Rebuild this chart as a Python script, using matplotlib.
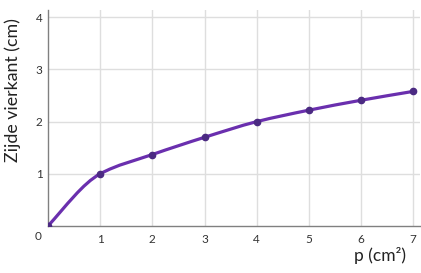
import numpy as np
import matplotlib
matplotlib.use("Agg")
import matplotlib.pyplot as plt
from matplotlib.path import Path
from matplotlib.patches import PathPatch

# data
p_values = [0, 1, 2, 3, 4, 5, 6, 7]
zijde = [0, 1.0, 1.37, 1.70, 2.0, 2.22, 2.41, 2.58]
x_ticks = [1, 2, 3, 4, 5, 6, 7]
y_ticks = [1, 2, 3, 4]

line_color = "#6a2fae"
dot_color = "#4b2a82"
grid_color = "#dedede"
spine_color = "#808080"

plt.rcParams["font.family"] = ["Lato", "DejaVu Sans"]

fig = plt.figure(figsize=(4.21, 2.73), dpi=100)
ax = fig.add_axes([48 / 421, 1 - 226 / 273, 372 / 421, 216 / 273])

# smooth curve through the points (monotone cubic, drawn as bezier segments)
x = np.array(p_values, dtype=float)
y = np.array(zijde, dtype=float)
d = np.diff(y) / np.diff(x)
m = np.zeros_like(y)
m[0] = d[0] * 1.1
m[-1] = d[-1]
for i in range(1, len(y) - 1):
    m[i] = 0 if d[i - 1] * d[i] <= 0 else 2 / (1 / d[i - 1] + 1 / d[i])
verts = [(x[0], y[0])]
codes = [Path.MOVETO]
for i in range(len(x) - 1):
    h = x[i + 1] - x[i]
    verts += [(x[i] + h / 3, y[i] + m[i] * h / 3),
              (x[i + 1] - h / 3, y[i + 1] - m[i + 1] * h / 3),
              (x[i + 1], y[i + 1])]
    codes += [Path.CURVE4] * 3
ax.add_patch(PathPatch(Path(verts, codes), facecolor="none", edgecolor=line_color,
                       lw=2.3, capstyle="round", zorder=3))
ax.plot(p_values, zijde, "o", color=dot_color, markersize=4.5, zorder=4)

ax.set_xlim(0, 7.13)
ax.set_ylim(0, 4.14)
ax.set_xticks(x_ticks)
ax.set_yticks(y_ticks)
ax.grid(True, color=grid_color, lw=1)
ax.set_axisbelow(True)
for side in ["top", "right"]:
    ax.spines[side].set_visible(False)
for side in ["left", "bottom"]:
    ax.spines[side].set_color(spine_color)
    ax.spines[side].set_linewidth(1)
ax.tick_params(length=0, labelsize=8.5, colors="#333333", pad=6)
ax.tick_params(axis="y", pad=4)

fig.text(38 / 421, 1 - 237 / 273, "0", fontsize=8.5, color="#333333", ha="center", va="center")
fig.text(13 / 421, 1 - 90 / 273, "Zijde vierkant (cm)", fontsize=12.8, color="#222222",
         rotation=90, ha="center", va="center")
fig.text(380 / 421, 1 - 256 / 273, "p (cm²)", fontsize=12.5, color="#222222", ha="center", va="center")

fig.savefig("out.png", dpi=100)
